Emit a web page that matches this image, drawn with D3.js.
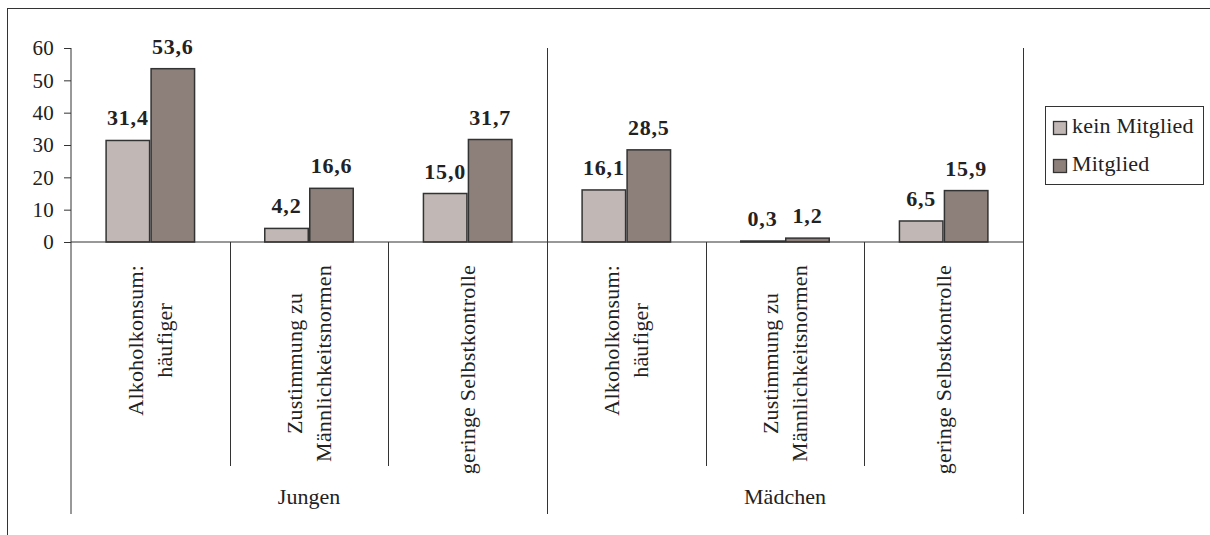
<!DOCTYPE html>
<html>
<head>
<meta charset="utf-8">
<script src="https://cdn.jsdelivr.net/npm/d3@7"></script>
<style>
  html, body { margin: 0; padding: 0; background: #fff; }
  svg { display: block; }
</style>
</head>
<body>
<svg id="chart" width="1210" height="535"></svg>
<script>
// ---- data ----
const groups = ["Jungen", "Mädchen"];
const categories = [
  ["Alkoholkonsum:", "häufiger"],
  ["Zustimmung zu", "Männlichkeitsnormen"],
  ["geringe Selbstkontrolle"],
  ["Alkoholkonsum:", "häufiger"],
  ["Zustimmung zu", "Männlichkeitsnormen"],
  ["geringe Selbstkontrolle"]
];
const categoryGroup = [0, 0, 0, 1, 1, 1];
const seriesNames = ["kein Mitglied", "Mitglied"];
const keinMitglied = [31.4, 4.2, 15.0, 16.1, 0.3, 6.5];
const mitglied = [53.6, 16.6, 31.7, 28.5, 1.2, 15.9];
const yTicks = [0, 10, 20, 30, 40, 50, 60];
const seriesColors = ["#c1b8b5", "#8d807b"];

// ---- layout ----
const FONT = "'Liberation Serif', 'DejaVu Serif', serif";
const svg = d3.select("#chart");
const plotLeft = 71, plotRight = 1023, plotTop = 48, zeroY = 242;
const innerDivBottom = 466, groupDivBottom = 514;

const x0 = d3.scaleBand().domain(d3.range(categories.length))
  .range([plotLeft, plotRight]).paddingInner(0.433).paddingOuter(0.2165);
const x1 = d3.scaleBand().domain(seriesNames).range([0, x0.bandwidth()]);
const y = d3.scaleLinear().domain([0, 60]).range([zeroY, plotTop]);
const color = d3.scaleOrdinal().domain(seriesNames).range(seriesColors);
const fmt = v => d3.format(".1f")(v).replace(".", ",");

function styleText(sel, size, ls, bold) {
  return sel.attr("font-family", FONT).style("font-family", FONT)
    .attr("font-size", size).style("font-size", size + "px")
    .style("letter-spacing", ls + "px").attr("fill", "#222")
    .style("font-weight", bold ? "bold" : "normal");
}

// outer border
svg.append("rect").attr("x", 7.5).attr("y", 8.5).attr("width", 1220).attr("height", 545)
  .attr("fill", "none").attr("stroke", "#333").attr("stroke-width", 1);

// y axis
const yAxis = svg.append("g").attr("transform", `translate(${plotLeft},0)`)
  .call(d3.axisLeft(y).tickValues(yTicks).tickSize(7).tickPadding(10).tickFormat(d3.format("d")));
yAxis.attr("font-family", FONT);
yAxis.select(".domain").remove();
yAxis.selectAll(".tick line").attr("stroke", "#333");
styleText(yAxis.selectAll(".tick text"), 21, 0.3, false);

// bars
const rows = categories.map((c, i) => ({ i, vals: [keinMitglied[i], mitglied[i]] }));
const cat = svg.selectAll("g.cat").data(rows).join("g").attr("class", "cat")
  .attr("transform", d => `translate(${x0(d.i)},0)`);
cat.selectAll("rect").data(d => d.vals.map((v, k) => ({ k: seriesNames[k], v })))
  .join("rect")
  .attr("x", d => x1(d.k) + 0.75).attr("width", x1.bandwidth() - 1.5)
  .attr("y", d => y(d.v)).attr("height", d => zeroY - y(d.v))
  .attr("fill", d => color(d.k)).attr("stroke", "#333").attr("stroke-width", 1.5);
styleText(cat.selectAll("text.val").data(d => d.vals.map((v, k) => ({ k: seriesNames[k], v })))
  .join("text").attr("class", "val")
  .attr("x", d => x1(d.k) + x1.bandwidth() / 2).attr("y", d => y(d.v) - 15)
  .attr("text-anchor", "middle").text(d => fmt(d.v)), 22, 0.8, true);

// axis lines
const step = x0.step();
svg.append("line").attr("x1", plotLeft).attr("x2", plotRight).attr("y1", zeroY).attr("y2", zeroY)
  .attr("stroke", "#333").attr("stroke-width", 1.2);
svg.append("line").attr("x1", plotLeft).attr("x2", plotLeft).attr("y1", plotTop).attr("y2", groupDivBottom)
  .attr("stroke", "#333").attr("stroke-width", 1);
d3.range(1, categories.length + 1).forEach(i => {
  const xb = Math.round(plotLeft + i * step) + 0.5;
  const isGroup = i === categories.length || categoryGroup[i] !== categoryGroup[i - 1];
  svg.append("line").attr("x1", xb).attr("x2", xb)
    .attr("y1", isGroup ? plotTop : zeroY).attr("y2", isGroup ? groupDivBottom : innerDivBottom)
    .attr("stroke", "#333").attr("stroke-width", 1);
});

// category labels (rotated)
const lineGap = 29;
rows.forEach(d => {
  const lines = categories[d.i];
  const cx = x0(d.i) + x0.bandwidth() / 2;
  const g = svg.append("g");
  const texts = lines.map((t, j) => styleText(g.append("text").text(t).attr("text-anchor", "middle"), 22, 0.2, false));
  const maxLen = d3.max(texts, t => t.node().getComputedTextLength());
  const cy = 265 + maxLen / 2;
  texts.forEach((t, j) => {
    const bx = cx + 7 + (j - (lines.length - 1) / 2) * lineGap;
    t.attr("transform", `translate(${bx},${cy}) rotate(-90)`);
  });
});

// group labels
groups.forEach((gname, gi) => {
  const idx = categoryGroup.map((g, i) => g === gi ? i : -1).filter(i => i >= 0);
  const xa = plotLeft + d3.min(idx) * step, xb = plotLeft + (d3.max(idx) + 1) * step;
  styleText(svg.append("text").attr("x", (xa + xb) / 2).attr("y", 504)
    .attr("text-anchor", "middle").text(gname), 22, 0, false);
});

// legend
const lg = svg.append("g");
lg.append("rect").attr("x", 1045.5).attr("y", 106.5).attr("width", 158).attr("height", 78)
  .attr("fill", "#fff").attr("stroke", "#333").attr("stroke-width", 1);
seriesNames.forEach((s, k) => {
  lg.append("rect").attr("x", 1053.5).attr("y", 121.5 + k * 38).attr("width", 13).attr("height", 13)
    .attr("fill", color(s)).attr("stroke", "#333").attr("stroke-width", 1.3);
  styleText(lg.append("text").attr("x", 1072).attr("y", 133 + k * 38).text(s), 22, 0.2, false);
});
</script>
</body>
</html>
